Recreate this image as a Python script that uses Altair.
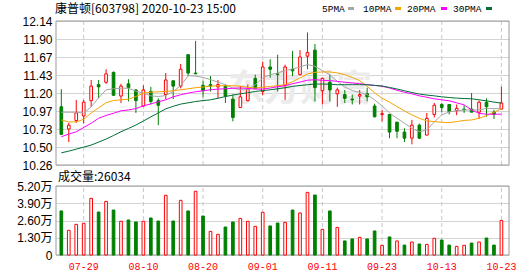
import altair as alt
import pandas as pd

# ---------------- data ----------------
dates = ["07-24", "07-27", "07-28", "07-29", "07-30", "07-31",
         "08-03", "08-04", "08-05", "08-06", "08-07",
         "08-10", "08-11", "08-12", "08-13", "08-14",
         "08-17", "08-18", "08-19", "08-20", "08-21",
         "08-24", "08-25", "08-26", "08-27", "08-28",
         "08-31", "09-01", "09-02", "09-03", "09-04",
         "09-07", "09-08", "09-09", "09-10", "09-11",
         "09-14", "09-15", "09-16", "09-17", "09-18",
         "09-21", "09-22", "09-23", "09-24", "09-25",
         "09-28", "09-29", "09-30",
         "10-09", "10-12", "10-13", "10-14", "10-15", "10-16",
         "10-19", "10-20", "10-21", "10-22", "10-23"]

opens = [11.02, 10.73, 10.84, 10.90, 11.10, 11.31, 11.34, 11.47, 11.16, 11.32,
         11.24, 11.03, 11.22, 11.10, 11.18, 11.36, 11.29, 11.70, 11.46, 11.30,
         11.31, 11.28, 11.29, 11.12, 11.01, 11.10, 11.39, 11.22, 11.54, 11.45,
         11.30, 11.51, 11.44, 11.68, 11.76, 11.23, 11.34, 11.19, 11.18, 11.12,
         11.16, 11.19, 11.03, 10.92, 10.92, 10.82, 10.69, 10.61, 10.78, 10.65,
         10.92, 11.05, 11.05, 10.97, 10.99, 10.99, 10.95, 11.08, 10.95, 10.99]
highs = [11.25, 10.81, 11.11, 11.11, 11.37, 11.37, 11.51, 11.48, 11.32, 11.38,
         11.25, 11.30, 11.28, 11.13, 11.46, 11.36, 11.58, 11.70, 11.88, 11.36,
         11.42, 11.37, 11.31, 11.18, 11.29, 11.31, 11.44, 11.61, 11.64, 11.70,
         11.57, 11.75, 11.76, 11.99, 11.84, 11.40, 11.44, 11.27, 11.24, 11.18,
         11.24, 11.27, 11.06, 10.98, 10.92, 10.82, 10.74, 10.85, 10.80, 10.94,
         11.07, 11.07, 11.05, 11.05, 11.04, 11.20, 11.10, 11.13, 10.98, 11.28]
lows = [10.65, 10.56, 10.81, 10.80, 11.02, 11.13, 11.32, 11.17, 11.07, 11.09,
        10.94, 11.02, 11.05, 10.78, 11.12, 11.12, 11.26, 11.42, 11.45, 11.14,
        11.22, 11.13, 11.07, 10.83, 11.01, 11.09, 11.26, 11.17, 11.40, 11.22,
        11.11, 11.42, 11.43, 11.51, 11.09, 11.05, 11.09, 11.02, 11.07, 11.05,
        11.05, 11.09, 10.88, 10.83, 10.61, 10.61, 10.56, 10.53, 10.60, 10.65,
        10.88, 10.95, 10.92, 10.91, 10.94, 10.95, 10.86, 10.89, 10.86, 10.99]
closes = [10.66, 10.78, 10.94, 11.08, 11.29, 11.28, 11.45, 11.17, 11.29, 11.27,
          11.10, 11.24, 11.09, 11.04, 11.37, 11.29, 11.51, 11.46, 11.45, 11.23,
          11.29, 11.31, 11.16, 10.88, 11.15, 11.25, 11.26, 11.54, 11.51, 11.44,
          11.54, 11.49, 11.67, 11.73, 11.27, 11.39, 11.24, 11.24, 11.13, 11.11,
          11.18, 11.15, 10.89, 10.93, 10.69, 10.70, 10.61, 10.78, 10.61, 10.87,
          11.04, 11.01, 10.96, 11.00, 10.98, 10.95, 11.08, 11.02, 10.92, 11.07]

volumes = [33200, 18600, 23100, 23900, 42700, 32400, 40400, 33900, 25400, 26400,
           24900, 25400, 27900, 25600, 45000, 25600, 41200, 33200, 48000, 29400,
           17800, 15600, 21100, 24900, 27600, 25400, 21600, 32200, 21900, 24100,
           24600, 33900, 31700, 47200, 45200, 19300, 33200, 20800, 10600, 12100,
           13300, 12100, 18100, 7300, 13600, 10600, 7500, 9800, 8300, 8000,
           12600, 11300, 7500, 6500, 7300, 9000, 9800, 12800, 7500, 26034]
vol_up = [0, 1, 1, 1, 1, 0, 1, 0, 1, 0,
          0, 1, 0, 0, 1, 0, 1, 0, 1, 0,
          1, 1, 0, 0, 1, 1, 1, 1, 0, 0,
          1, 0, 1, 1, 0, 1, 0, 1, 0, 0,
          1, 0, 0, 1, 0, 1, 0, 1, 0, 1,
          1, 0, 0, 1, 1, 0, 1, 0, 0, 1]

ma5 = [10.949, 10.949, 10.949, 10.940, 11.019, 11.137, 11.242, 11.255, 11.262, 11.262,
       11.223, 11.199, 11.163, 11.154, 11.167, 11.220, 11.295, 11.426, 11.420, 11.404,
       11.374, 11.343, 11.308, 11.265, 11.242, 11.242, 11.308, 11.396, 11.439, 11.462,
       11.492, 11.514, 11.541, 11.571, 11.549, 11.492, 11.439, 11.352, 11.278, 11.233,
       11.207, 11.177, 11.111, 11.032, 10.940, 10.870, 10.805, 10.739, 10.694, 10.717,
       10.822, 10.914, 10.953, 10.966, 10.979, 10.979, 10.979, 10.999, 10.999, 10.993]
ma10 = [10.848, 10.822, 10.822, 10.857, 10.940, 11.006, 11.072, 11.102, 11.111, 11.120,
        11.154, 11.199, 11.210, 11.216, 11.220, 11.229, 11.242, 11.255, 11.269, 11.278,
        11.289, 11.295, 11.295, 11.295, 11.289, 11.273, 11.265, 11.275, 11.286, 11.295,
        11.308, 11.348, 11.396, 11.449, 11.470, 11.475, 11.475, 11.462, 11.439, 11.404,
        11.361, 11.286, 11.203, 11.133, 11.081, 11.023, 10.967, 10.914, 10.870, 10.835,
        10.826, 10.818, 10.813, 10.826, 10.842, 10.848, 10.870, 10.905, 10.949, 10.993]
ma20 = [10.629, 10.664, 10.694, 10.750, 10.805, 10.870, 10.907, 10.936, 10.967, 10.979,
        10.997, 11.032, 11.058, 11.085, 11.111, 11.150, 11.177, 11.199, 11.216, 11.229,
        11.242, 11.251, 11.255, 11.262, 11.265, 11.260, 11.251, 11.251, 11.265, 11.282,
        11.295, 11.321, 11.343, 11.367, 11.374, 11.365, 11.361, 11.352, 11.341, 11.331,
        11.321, 11.308, 11.299, 11.288, 11.265, 11.236, 11.210, 11.190, 11.163, 11.144,
        11.124, 11.111, 11.098, 11.072, 11.045, 10.979, 10.934, 10.923, 10.923, 10.923]
ma30 = [10.419, 10.441, 10.467, 10.493, 10.520, 10.559, 10.599, 10.645, 10.694, 10.737,
        10.782, 10.835, 10.888, 10.940, 10.993, 11.026, 11.055, 11.072, 11.089, 11.101,
        11.111, 11.131, 11.154, 11.173, 11.190, 11.203, 11.220, 11.232, 11.242, 11.255,
        11.269, 11.286, 11.298, 11.308, 11.317, 11.317, 11.315, 11.308, 11.308, 11.308,
        11.308, 11.308, 11.299, 11.291, 11.273, 11.252, 11.229, 11.207, 11.186, 11.173,
        11.163, 11.150, 11.141, 11.133, 11.128, 11.124, 11.111, 11.098, 11.081, 11.068]

ma_names = ["5PMA", "10PMA", "20PMA", "30PMA"]
ma_colors = ["#a6a6a6", "#f5a300", "#ff00ff", "#006e35"]

label_dates = ["07-29", "08-10", "08-20", "09-01", "09-11", "09-23", "10-13", "10-23"]
price_ticks = [10.26, 10.495, 10.73, 10.965, 11.20, 11.435, 11.67, 11.905, 12.14]
price_tick_labels = ["10.26", "10.50", "10.73", "10.97", "11.20", "11.43", "11.67", "11.90", "12.14"]
vol_ticks = [0, 13000, 26000, 39000, 52000]
vol_tick_labels = ["0", "1.30万", "2.60万", "3.90万", "5.20万"]

title_text = "康普顿[603798] 2020-10-23 15:00"
vol_title_text = "成交量:26034"
watermark_text = "东方财富"

# ---------------- layout constants ----------------
W, H = 453, 234
PRICE_H = 144
VOL_TOP = 165
RED, GREEN = "#ff0000", "#008000"
GRID = "#d4d4d4"
FRAME = "#9a9a9a"


def label_expr(ticks, labels, tol):
    expr = "''"
    for t, l in zip(reversed(ticks), reversed(labels)):
        expr = f"abs(datum.value - {t}) < {tol} ? '{l}' : {expr}"
    return expr


df = pd.DataFrame({
    "date": dates, "open": opens, "high": highs, "low": lows, "close": closes,
    "dir": ["up" if c >= o else "down" for o, c in zip(opens, closes)],
    "vol": volumes, "vdir": ["up" if v else "down" for v in vol_up],
})
ma_df = pd.DataFrame({
    "date": dates * 4,
    "value": ma5 + ma10 + ma20 + ma30,
    "ma": [n for n in ma_names for _ in dates],
})

x_scale = alt.Scale(type="band", domain=dates, paddingInner=0.35, paddingOuter=0.54, align=0.36)
x_axis = alt.Axis(values=label_dates, title=None, labelAngle=0, ticks=False, domain=False,
                  grid=False, labelColor=RED, labelFont="Liberation Mono", labelFontSize=10,
                  labelPadding=6, labelBaseline="top")
X = alt.X("date:O", scale=x_scale, axis=x_axis)

price_scale = alt.Scale(domain=[price_ticks[0], price_ticks[-1]], range=[PRICE_H, 0], nice=False, zero=False)
vol_scale = alt.Scale(domain=[vol_ticks[0], vol_ticks[-1]], range=[H, VOL_TOP], nice=False)

axis_common = dict(title=None, orient="left", ticks=False, domain=False, grid=True,
                   gridColor=GRID, gridWidth=1, labelFont="Liberation Sans, Noto Sans CJK SC",
                   labelFontSize=12, labelColor="#000000", labelPadding=4,
                   labelFlush=False, labelOverlap=False)
price_axis = alt.Axis(values=price_ticks, labelExpr=label_expr(price_ticks, price_tick_labels, 0.05),
                      **axis_common)
vol_axis = alt.Axis(values=vol_ticks, labelExpr=label_expr(vol_ticks, vol_tick_labels, 100),
                    **axis_common)

stroke_scale = alt.Scale(domain=["up", "down"], range=[RED, GREEN])
fill_scale = alt.Scale(domain=["up", "down"], range=["#ffffff", GREEN])

# ---------------- price panel ----------------
wm = alt.Chart(pd.DataFrame({"t": [watermark_text]})).mark_text(
    align="center", baseline="middle", font="Noto Sans CJK SC", fontSize=36,
    fontWeight="bold", color="#ebebeb"
).encode(text="t:N", x=alt.value(244), y=alt.value(69))

vr_df = pd.DataFrame({"date": label_dates,
                      "lo": [price_ticks[0]] * len(label_dates),
                      "hi": [price_ticks[-1]] * len(label_dates)})
p_vrules = alt.Chart(vr_df).mark_rule(color="#c8c8c8", strokeDash=[4, 3], strokeWidth=1).encode(
    x=X, y=alt.Y("lo:Q", scale=price_scale, axis=price_axis), y2="hi:Q")

p_frame = alt.Chart(pd.DataFrame({"lo": [price_ticks[0]], "hi": [price_ticks[-1]]})).mark_rect(
    fillOpacity=0, stroke=FRAME, strokeWidth=1
).encode(x=alt.value(0), x2=alt.value(W),
         y=alt.Y("lo:Q", scale=price_scale, axis=price_axis), y2="hi:Q")

wicks = alt.Chart(df).mark_rule(strokeWidth=1).encode(
    x=X, y=alt.Y("low:Q", scale=price_scale, axis=price_axis), y2="high:Q",
    stroke=alt.Stroke("dir:N", scale=stroke_scale, legend=None))

bodies = alt.Chart(df).mark_bar(width=alt.RelativeBandSize(0.55), strokeWidth=1).encode(
    x=X, y=alt.Y("open:Q", scale=price_scale, axis=price_axis), y2="close:Q",
    fill=alt.Fill("dir:N", scale=fill_scale, legend=None),
    stroke=alt.Stroke("dir:N", scale=stroke_scale, legend=None))

mas = alt.Chart(ma_df).mark_line(strokeWidth=1).encode(
    x=X, y=alt.Y("value:Q", scale=price_scale, axis=price_axis),
    color=alt.Color("ma:N", scale=alt.Scale(domain=ma_names, range=ma_colors), legend=None))

header = alt.Chart(pd.DataFrame({"t": [title_text]})).mark_text(
    align="left", baseline="middle", font="Noto Sans CJK SC", fontSize=12, color="#000000"
).encode(text="t:N", x=alt.value(-1), y=alt.value(-12))

legend_layers = []
leg_text_x = [266, 307, 351, 397]
leg_box_x = [292, 339, 385, 430]
for name, col, tx, bx in zip(ma_names, ma_colors, leg_text_x, leg_box_x):
    legend_layers.append(
        alt.Chart(pd.DataFrame({"t": [name]})).mark_text(
            align="left", baseline="middle", font="Liberation Mono", fontSize=9.5,
            color="#000000"
        ).encode(text="t:N", x=alt.value(tx), y=alt.value(-12)))
    legend_layers.append(
        alt.Chart(pd.DataFrame({"t": [name]})).mark_rect(color=col).encode(
            x=alt.value(bx), x2=alt.value(bx + 6), y=alt.value(-14), y2=alt.value(-11)))

vol_title = alt.Chart(pd.DataFrame({"t": [vol_title_text]})).mark_text(
    align="left", baseline="middle", font="Noto Sans CJK SC", fontSize=12, color="#000000"
).encode(text="t:N", x=alt.value(2), y=alt.value(156))

price_group = alt.layer(wm, p_vrules, p_frame, wicks, bodies, mas, header, vol_title, *legend_layers)

# ---------------- volume panel ----------------
vvr_df = pd.DataFrame({"date": label_dates,
                       "lo": [vol_ticks[0]] * len(label_dates),
                       "hi": [vol_ticks[-1]] * len(label_dates)})
v_vrules = alt.Chart(vvr_df).mark_rule(color="#c8c8c8", strokeDash=[4, 3], strokeWidth=1).encode(
    x=X, y=alt.Y("lo:Q", scale=vol_scale, axis=vol_axis), y2="hi:Q")

v_frame = alt.Chart(pd.DataFrame({"lo": [vol_ticks[0]], "hi": [vol_ticks[-1]]})).mark_rect(
    fillOpacity=0, stroke=FRAME, strokeWidth=1
).encode(x=alt.value(0), x2=alt.value(W),
         y=alt.Y("lo:Q", scale=vol_scale, axis=vol_axis), y2="hi:Q")

v_bars = alt.Chart(df).mark_bar(width=alt.RelativeBandSize(0.55), strokeWidth=1).encode(
    x=X, y=alt.Y("vol:Q", scale=vol_scale, axis=vol_axis, stack=False),
    fill=alt.Fill("vdir:N", scale=fill_scale, legend=None),
    stroke=alt.Stroke("vdir:N", scale=stroke_scale, legend=None))

vol_group = alt.layer(v_vrules, v_frame, v_bars)

chart = alt.layer(price_group, vol_group).resolve_scale(y="independent").properties(
    width=W, height=H,
    autosize=alt.AutoSizeParams(type="none"),
    padding={"left": 56, "top": 21, "right": 21, "bottom": 21},
).configure_view(strokeWidth=0)

chart.save("out.html", embed_options={"renderer": "svg", "actions": False})
